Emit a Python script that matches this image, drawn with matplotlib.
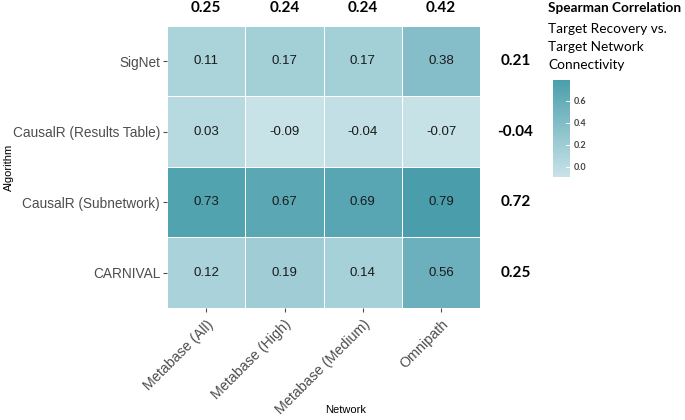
import numpy as np
import matplotlib.pyplot as plt
from matplotlib.colors import LinearSegmentedColormap

networks = ['Metabase (All)', 'Metabase (High)', 'Metabase (Medium)', 'Omnipath']
algorithms = ['SigNet', 'CausalR (Results Table)', 'CausalR (Subnetwork)', 'CARNIVAL']

values = np.array([
    [0.11, 0.17, 0.17, 0.38],
    [0.03, -0.09, -0.04, -0.07],
    [0.73, 0.67, 0.69, 0.79],
    [0.12, 0.19, 0.14, 0.56],
])

network_summary = [0.25, 0.24, 0.24, 0.42]
algorithm_summary = [0.21, -0.04, 0.72, 0.25]

cmap = LinearSegmentedColormap.from_list('teal', ['#c8e3e8', '#4a9eac'])
vmin, vmax = values.min(), values.max()

fig = plt.figure(figsize=(6.85, 4.2), dpi=100)
ax = fig.add_axes([0.244, 0.267, 0.457, 0.671])

mesh = ax.pcolormesh(values, cmap=cmap, vmin=vmin, vmax=vmax,
                     edgecolor='white', linewidth=0.45)
ax.set_xlim(0, len(networks))
ax.set_ylim(len(algorithms), 0)

for i in range(len(algorithms)):
    for j in range(len(networks)):
        ax.text(j + 0.5, i + 0.5, f'{values[i, j]:.2f}', ha='center', va='center',
                fontsize=9.5, color='#1a1a1a', family='Liberation Sans')

for j, v in enumerate(network_summary):
    ax.text(j + 0.5, -0.15, f'{v:.2f}', ha='center', va='bottom', fontsize=11,
            fontweight='bold', family='Lato', clip_on=False)
for i, v in enumerate(algorithm_summary):
    ax.text(4.45, i + 0.5, f'{v:.2f}', ha='center', va='center', fontsize=11,
            fontweight='bold', family='Lato', clip_on=False)

ax.set_xticks(np.arange(len(networks)) + 0.5)
ax.set_xticklabels(networks, rotation=45, ha='right', va='top',
                   rotation_mode='anchor', fontsize=10.3, color='#4d4d4d',
                   family='Liberation Sans')
ax.set_yticks(np.arange(len(algorithms)) + 0.5)
ax.set_yticklabels(algorithms, fontsize=9.8, color='#4d4d4d', family='Liberation Sans')
ax.tick_params(length=3, color='#4d4d4d', width=0.8, pad=2)
ax.tick_params(axis='x', pad=4)
for s in ax.spines.values():
    s.set_visible(False)

fig.text(0.504, 0.024, 'Network', fontsize=8, family='Liberation Sans',
         ha='center', va='center')
fig.text(0.013, 0.602, 'Algorithm', fontsize=8, family='Liberation Sans',
         ha='center', va='center', rotation=90)

# legend
cax = fig.add_axes([0.807, 0.579, 0.025, 0.231])
cb = fig.colorbar(mesh, cax=cax)
cb.outline.set_visible(False)
cb.set_ticks([0.0, 0.2, 0.4, 0.6])
cb.ax.tick_params(length=3, color='white', width=0.6, direction='in', pad=3)
cb.ax.set_yticklabels(['0.0', '0.2', '0.4', '0.6'], fontsize=6.5,
                      fontweight='bold', color='#444444', family='Lato')
for t in [0.0, 0.2, 0.4, 0.6]:
    cb.ax.plot([0.75, 1.0], [t, t], color='white', lw=0.6, transform=cb.ax.get_yaxis_transform())

legend_lines = ['Target Recovery vs.', 'Target Network', 'Connectivity']
fig.text(0.800, 0.980, 'Spearman Correlation', fontsize=9.8, fontweight='bold',
         family='Lato', va='center')
for k, line in enumerate(legend_lines):
    fig.text(0.800, 0.930 - k * 0.042, line, fontsize=9.8, family='Lato', va='center')

fig.savefig('out.png', dpi=100)
